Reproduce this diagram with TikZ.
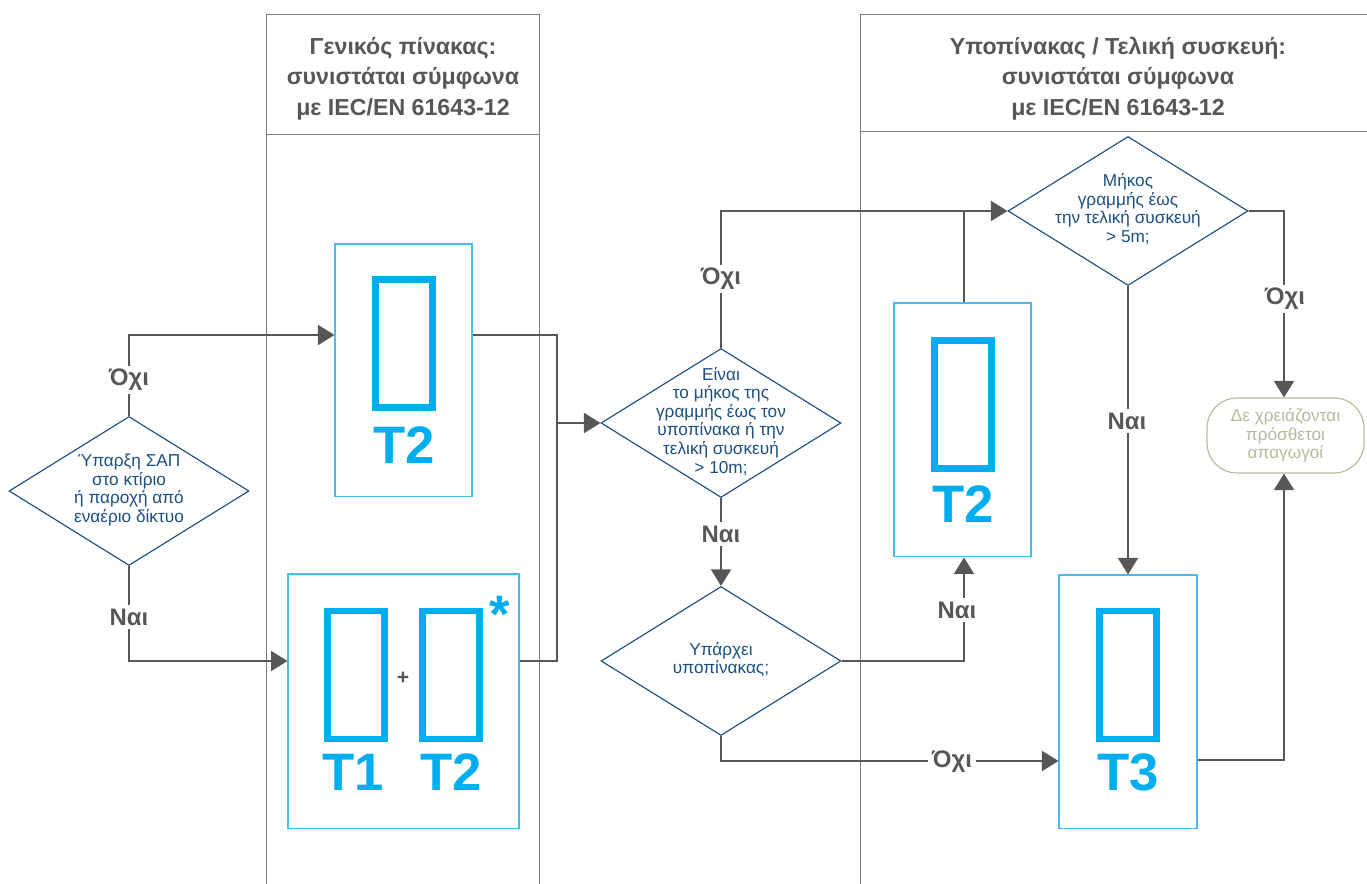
\documentclass[tikz,border=0pt]{standalone}
\usepackage{fontspec}
\setmainfont{Liberation Sans}
\usetikzlibrary{shapes}
\usetikzlibrary{positioning}
\usetikzlibrary{arrows.meta}
\definecolor{flowgray}{HTML}{575756}
\definecolor{lanegray}{HTML}{7A7A7A}
\definecolor{decblue}{HTML}{1A4F80}
\definecolor{spdcyan}{HTML}{00AEEF}
\definecolor{boxcyan}{HTML}{45BDEE}
\definecolor{endtan}{HTML}{B8B89C}
\newcommand{\declab}[1]{\makebox[0pt]{\smash{\raisebox{-.25em}{\setlength{\tabcolsep}{0pt}\begin{tabular}[c]{c}#1\end{tabular}}}}}
\tikzset{
  lane/.style={draw=lanegray,line width=.45pt},
  headtxt/.style={font=\fontsize{13.2}{17.3}\selectfont\bfseries,text=flowgray,align=center,inner sep=0pt},
  dec/.style={shape=diamond,draw=decblue,line width=.65pt,inner sep=0pt,minimum width=4.8cm,minimum height=2.98cm,text=decblue,font=\fontsize{9.8}{10.6}\selectfont},
  bluebox/.style={draw=boxcyan,line width=.6pt,inner sep=0pt},
  tofu/.style={draw=spdcyan,line width=3.9pt,inner sep=0pt,minimum width=1.14cm,minimum height=2.56cm},
  spdtxt/.style={text=spdcyan,font=\fontsize{30}{30}\selectfont\bfseries,inner sep=0pt},
  endbox/.style={draw=endtan,line width=.65pt,rounded corners=.6cm,inner sep=0pt,minimum width=3.14cm,minimum height=1.5cm,text=endtan,align=center,font=\fontsize{9.8}{10.6}\selectfont},
  flowline/.style={draw=flowgray,line width=1.1pt},
  flowarrow/.style={flowline,-{Triangle[length=.33cm,width=.4cm]}},
  answer/.style={fill=white,text=flowgray,font=\fontsize{13.6}{14}\selectfont\bfseries,inner sep=2pt}
}
\begin{document}
\begin{tikzpicture}[x=.02cm,y=-.02cm]
\useasboundingbox (0,0) rectangle (1367,884);
% lanes
\draw[lane] (266,884)--(266,14)--(539,14)--(539,884);
\draw[lane] (266,134)--(539,134);
\draw[lane] (860,884)--(860,14)--(1367,14);
\draw[lane] (860,131)--(1367,131);
\node[headtxt] (headl) at (403,78.5) {Γενικός πίνακας:\\συνιστάται σύμφωνα\\με IEC/EN 61643-12};
\node[headtxt] (headr) at (1118,78.5) {Υποπίνακας / Τελική συσκευή:\\συνιστάται σύμφωνα\\με IEC/EN 61643-12};
% decisions
\node[dec] (dsap) at (129,491) {\declab{Ύπαρξη ΣΑΠ\\στο κτίριο\\ή παροχή από\\εναέριο δίκτυο}};
\node[dec] (dlen) at (721,423) {\declab{Είναι\\το μήκος της\\γραμμής έως τον\\υποπίνακα ή την\\τελική συσκευή\\> 10m;}};
\node[dec] (dsub) at (721,661) {\declab{Υπάρχει\\υποπίνακας;}};
\node[dec] (dfive) at (1128,211) {\declab{Μήκος\\γραμμής έως\\την τελική συσκευή\\> 5m;}};
% boxes
\node[bluebox,minimum width=2.74cm,minimum height=5.06cm] (bmain) at (403.5,370.5) {};
\node[bluebox,minimum width=4.62cm,minimum height=5.1cm] (bboth) at (403.5,701.5) {};
\node[bluebox,minimum width=2.74cm,minimum height=5.08cm] (bsub) at (962.5,430) {};
\node[bluebox,minimum width=2.76cm,minimum height=5.08cm] (bend) at (1128,702) {};
\node[endbox] (noneed) at (1285.5,435.5) {Δε χρειάζονται\\πρόσθετοι\\απαγωγοί};
% spd symbols
\node[tofu] (tmain) at (404,343.5) {};
\node[spdtxt] (lmain) at (404,445) {T2};
\node[tofu] (tone) at (356,675) {};
\node[spdtxt] (lone) at (353,772) {T1};
\node[tofu] (ttwo) at (451,675) {};
\node[spdtxt] (ltwo) at (451,772) {T2};
\node[text=flowgray,font=\fontsize{12}{12}\selectfont\bfseries,inner sep=0pt] (plus) at (403,678) {+};
\node[spdtxt] (star) at (499.5,614) {*};
\node[tofu] (tsub) at (963,404.5) {};
\node[spdtxt] (lsub) at (963,504) {T2};
\node[tofu] (tend) at (1128,675) {};
\node[spdtxt] (lend) at (1128,772) {T3};
% connectors
\coordinate (join) at (557,423);
\draw[flowarrow] (dsap.north) |- ([yshift=.71cm]bmain.west);
\draw[flowarrow] (dsap.south) |- ([yshift=.81cm]bboth.west);
\draw[flowline] ([yshift=.71cm]bmain.east) -| (join) |- ([yshift=.81cm]bboth.east);
\draw[flowarrow] (join) -- (dlen.west);
\draw[flowarrow] (dlen.north) |- (dfive.west);
\draw[flowarrow] (dlen.south) -- (dsub.north);
\draw[flowarrow] (dsub.east) -| ([xshift=.03cm]bsub.south);
\draw[flowarrow] (dsub.south) |- ([yshift=-1.18cm]bend.west);
\draw[flowline] ([xshift=.03cm]bsub.north) -- ([xshift=.03cm]bsub.north |- dfive.west);
\draw[flowarrow] (dfive.south) -- (bend.north);
\draw[flowarrow] (dfive.east) -| ([xshift=-.03cm]noneed.north);
\draw[flowarrow] ([yshift=-1.16cm]bend.east) -| ([xshift=-.03cm]noneed.south);
% answers
\node[answer] (ano) at (129,380) {Όχι};
\node[answer] (ayes) at (129,617) {Ναι};
\node[answer] (bno) at (721,279) {Όχι};
\node[answer] (byes) at (721,534) {Ναι};
\node[answer] (cyes) at (957,610) {Ναι};
\node[answer] (cno) at (952,762) {Όχι};
\node[answer] (dyes) at (1127,421) {Ναι};
\node[answer] (dno) at (1285,299) {Όχι};
\end{tikzpicture}
\end{document}
